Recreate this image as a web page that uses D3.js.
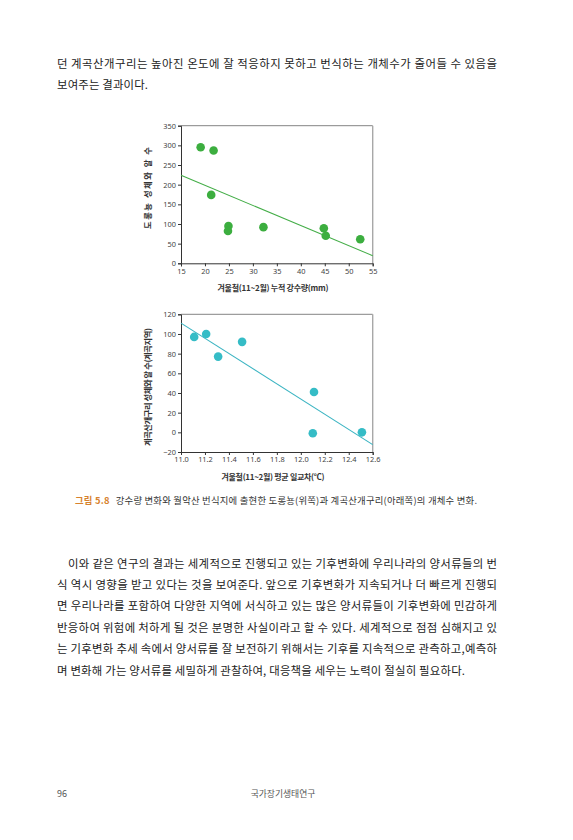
<!DOCTYPE html>
<html><head><meta charset="utf-8">
<script src="https://cdn.jsdelivr.net/npm/d3@7"></script>
<style>
html,body{margin:0;padding:0;background:#fff;}
svg{display:block;}
</style></head>
<body>
<svg id="page" width="573" height="840"></svg>
<script>
// ---- data ----
const precip = [19.1, 21.8, 21.3, 24.9, 24.8, 32.2, 44.8, 45.2, 52.4];
const salamanderCount = [295, 287, 174, 95, 82, 92, 89, 70, 61];
const trend1X = [15, 55];
const trend1Y = [223.7, 19.5];
const precipTicks = [15, 20, 25, 30, 35, 40, 45, 50, 55];
const salamanderTicks = [0, 50, 100, 150, 200, 250, 300, 350];

const dtr = [11.11, 11.21, 11.31, 11.51, 12.11, 12.10, 12.51];
const frogCount = [97, 100, 77, 92, 41, -1, 0];
const trend2X = [11.0, 12.6];
const trend2Y = [111, -12.5];
const dtrTicks = [11.0, 11.2, 11.4, 11.6, 11.8, 12.0, 12.2, 12.4, 12.6];
const frogTicks = [-20, 0, 20, 40, 60, 80, 100, 120];

const para1 = [
  "던 계곡산개구리는 높아진 온도에 잘 적응하지 못하고 번식하는 개체수가 줄어들 수 있음을",
  "보여주는 결과이다."
];
const para2 = [
  "이와 같은 연구의 결과는 세계적으로 진행되고 있는 기후변화에 우리나라의 양서류들의 번",
  "식 역시 영향을 받고 있다는 것을 보여준다. 앞으로 기후변화가 지속되거나 더 빠르게 진행되",
  "면 우리나라를 포함하여 다양한 지역에 서식하고 있는 많은 양서류들이 기후변화에 민감하게",
  "반응하여 위험에 처하게 될 것은 분명한 사실이라고 할 수 있다. 세계적으로 점점 심해지고 있",
  "는 기후변화 추세 속에서 양서류를 잘 보전하기 위해서는 기후를 지속적으로 관측하고,예측하",
  "며 변화해 가는 양서류를 세밀하게 관찰하여, 대응책을 세우는 노력이 절실히 필요하다."
];
const captionLabel = "그림 5.8";
const captionText = "강수량 변화와 월악산 번식지에 출현한 도롱뇽(위쪽)과 계곡산개구리(아래쪽)의 개체수 변화.";
const pageNumber = "96";
const footerTitle = "국가장기생태연구";

// ---- drawing ----
const svg = d3.select("#page");
const FONT = "'Noto Sans CJK KR','Noto Sans',sans-serif";

function textLines(lines, x0, x1, firstIndent, y0, dy, lastWidth) {
  lines.forEach((t, i) => {
    const x = i === 0 ? x0 + firstIndent : x0;
    const el = svg.append("text")
      .attr("x", x).attr("y", y0 + i * dy)
      .attr("font-family", FONT).attr("font-size", 11.4)
      .attr("fill", "#222").text(t);
    const w = i === lines.length - 1 ? lastWidth : x1 - x;
    el.attr("textLength", w).attr("lengthAdjust", "spacing");
  });
}
textLines(para1, 57, 497, 0, 67.5, 21.2, 91);
textLines(para2, 57, 497, 11, 567.5, 21.4, 408);

function scatter(cfg) {
  const {xDomain, yDomain, xs, ys, tx, ty, xTicks, yTicks, top, bottom, color, lineColor, xTitle, yTitle, xFmt, xTitleW, yTitleW, yTitleCy} = cfg;
  const left = 181, right = 372.7;
  const x = d3.scaleLinear().domain(xDomain).range([left, right]);
  const y = d3.scaleLinear().domain(yDomain).range([bottom, top]);
  const g = svg.append("g");

  // frame top/right
  g.append("line").attr("x1", left).attr("x2", right).attr("y1", top).attr("y2", top)
    .attr("stroke", "#777").attr("stroke-width", 0.9);
  g.append("line").attr("x1", right).attr("x2", right).attr("y1", top).attr("y2", bottom)
    .attr("stroke", "#a8a8a8").attr("stroke-width", 1.4);

  const xAxis = d3.axisBottom(x).tickValues(xTicks).tickSize(3).tickPadding(2).tickFormat(xFmt);
  const yAxis = d3.axisLeft(y).tickValues(yTicks).tickSize(3).tickPadding(2);
  const gx = g.append("g").attr("transform", `translate(0,${bottom})`).call(xAxis);
  const gy = g.append("g").attr("transform", `translate(${left},0)`).call(yAxis);
  [gx, gy].forEach(a => {
    a.select(".domain").attr("stroke", "#333").attr("stroke-width", 1);
    a.selectAll(".tick line").attr("stroke", "#333");
    a.selectAll(".tick text").attr("font-family", "'Noto Sans','DejaVu Sans',sans-serif")
      .attr("font-size", 7.4).attr("fill", "#444");
  });

  // trend line
  g.append("line")
    .attr("x1", x(tx[0])).attr("y1", y(ty[0]))
    .attr("x2", x(tx[1])).attr("y2", y(ty[1]))
    .attr("stroke", lineColor).attr("stroke-width", 1.1);

  g.selectAll("circle.pt").data(xs.map((v, i) => [v, ys[i]])).join("circle")
    .attr("class", "pt")
    .attr("cx", d => x(d[0])).attr("cy", d => y(d[1])).attr("r", 4.3)
    .attr("fill", color);

  g.append("text").attr("x", 273 - xTitleW / 2).attr("y", bottom + 28)
    .attr("font-family", FONT).attr("font-size", 8)
    .attr("textLength", xTitleW).attr("lengthAdjust", "spacing")
    .attr("font-weight", "bold").attr("fill", "#333").text(xTitle);
  g.append("text").attr("transform", `translate(151,${yTitleCy + yTitleW / 2}) rotate(-90)`)
    .attr("font-family", FONT).attr("font-size", 8.3)
    .attr("textLength", yTitleW).attr("lengthAdjust", "spacing")
    .attr("font-weight", "bold").attr("fill", "#333").text(yTitle);
}

scatter({
  xDomain: [15, 55], yDomain: [0, 350], xs: precip, ys: salamanderCount,
  tx: trend1X, ty: trend1Y, xTicks: precipTicks, yTicks: salamanderTicks,
  top: 125.7, bottom: 263.3, color: "#3cae3f", lineColor: "#43ad47",
  xTitle: "겨울철(11~2월) 누적 강수량(mm)", yTitle: "도롱뇽 성체와 알 수",
  xFmt: d3.format("d"), xTitleW: 111, yTitleW: 82, yTitleCy: 188
});
scatter({
  xDomain: [11.0, 12.6], yDomain: [-20, 120], xs: dtr, ys: frogCount,
  tx: trend2X, ty: trend2Y, xTicks: dtrTicks, yTicks: frogTicks,
  top: 314.3, bottom: 452, color: "#35bcc6", lineColor: "#3ab4c2",
  xTitle: "겨울철(11~2월) 평균 일교차(℃)", yTitle: "계곡산개구리 성체와 알 수(계곡지역)",
  xFmt: d3.format(".1f"), xTitleW: 103, yTitleW: 118, yTitleCy: 387
});

// caption
const cap = svg.append("text").attr("x", 75).attr("y", 504.3)
  .attr("font-family", FONT).attr("font-size", 9.4);
cap.append("tspan").attr("fill", "#d7822e").attr("font-weight", "bold").text(captionLabel);
cap.append("tspan").attr("dx", 6).attr("fill", "#333").text(captionText);
cap.attr("textLength", 402).attr("lengthAdjust", "spacing");

// footer
svg.append("text").attr("x", 57).attr("y", 797).attr("font-family", FONT)
  .attr("font-size", 9).attr("fill", "#555").text(pageNumber);
svg.append("text").attr("x", 283).attr("y", 797).attr("text-anchor", "middle")
  .attr("font-family", FONT).attr("font-size", 8.8).attr("fill", "#555").text(footerTitle);
</script>
</body></html>
